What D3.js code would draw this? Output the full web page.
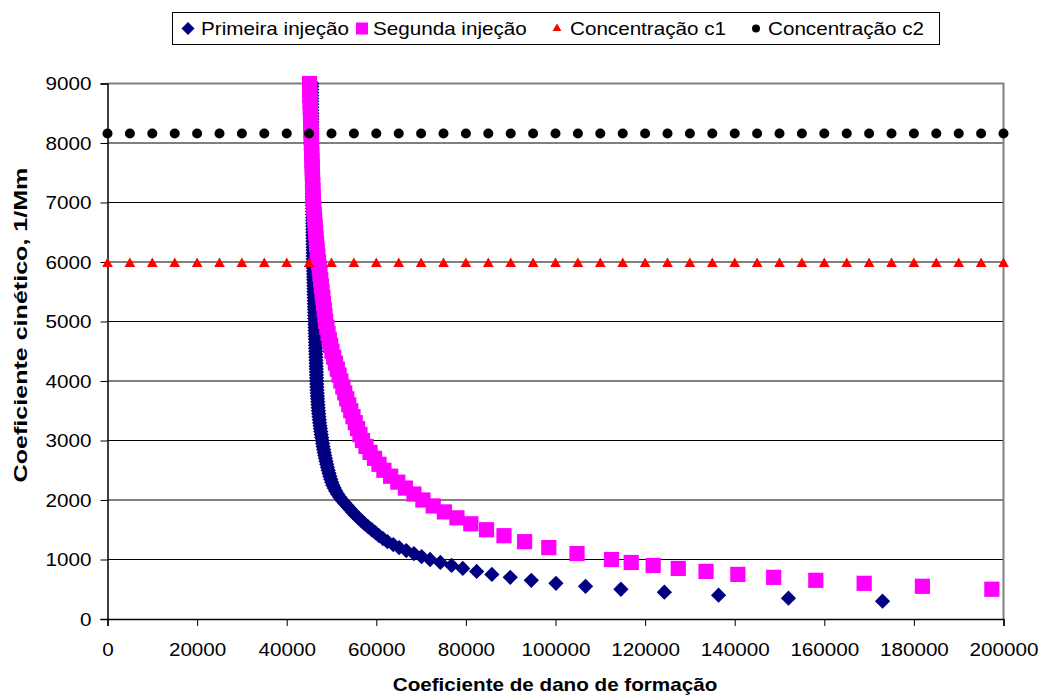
<!DOCTYPE html>
<html>
<head>
<meta charset="utf-8">
<script src="https://cdn.jsdelivr.net/npm/d3@7"></script>
<style>
  html, body { margin: 0; padding: 0; background: #fff; }
  svg { display: block; }
  text { font-family: "Liberation Sans", Arial, sans-serif; fill: #000; }
</style>
</head>
<body>
<svg id="chart" width="1041" height="697"></svg>
<script>
// Coeficiente cinético (1/Mm) for the first injection
const primeiraK = [300,350,400,450,500,550,600,650,700,750,800,850,900,950,1000,1050,1100,1150,1200,1250,1300,1350,1400,1450,1500,1550,1600,1650,1700,1750,1800,1850,1900,1950,2000,2050,2100,2150,2200,2250,2300,2350,2400,2450,2500,2550,2600,2650,2700,2750,2800,2850,2900,2950,3000,3050,3100,3150,3200,3250,3300,3350,3400,3450,3500,3550,3600,3650,3700,3750,3800,3850,3900,3950,4000,4050,4100,4150,4200,4250,4300,4350,4400,4450,4500,4550,4600,4650,4700,4750,4800,4850,4900,4950,5000,5050,5100,5150,5200,5250,5300,5350,5400,5450,5500,5550,5600,5650,5700,5750,5800,5850,5900,5950,6000,6050,6100,6150,6200,6250,6300,6350,6400,6450,6500,6550,6600,6650,6700,6750,6800,6850,6900,6950,7000,7050,7100,7150,7200,7250,7300,7350,7400,7450,7500,7550,7600,7650,7700,7750,7800,7850,7900,7950,8000,8050,8100,8150,8200,8250,8300,8350,8400,8450,8500,8550,8600,8650,8700,8750,8800,8850,8900,8950,9000];
// Coeficiente de dano de formação for the first injection
const primeiraD = [173000,152000,136400,124300,114600,106700,100100,94600,89900,85800,82400,79300,76800,74300,72000,70100,68400,66700,65100,63800,62500,61500,60600,59800,59000,58200,57400,56700,56000,55300,54700,54100,53500,52900,52300,51800,51350,50950,50600,50300,50050,49830,49630,49440,49260,49090,48930,48780,48640,48500,48370,48250,48130,48020,47910,47810,47710,47610,47520,47430,47350,47280,47210,47140,47080,47030,46980,46930,46890,46850,46810,46770,46740,46710,46680,46660,46640,46620,46600,46580,46560,46540,46520,46500,46480,46460,46440,46420,46400,46380,46360,46340,46320,46300,46280,46260,46240,46230,46210,46190,46170,46160,46140,46120,46100,46090,46070,46050,46030,46020,46000,45980,45960,45950,45930,45920,45910,45900,45890,45880,45870,45860,45850,45840,45830,45820,45810,45800,45800,45790,45780,45770,45760,45750,45750,45740,45730,45720,45720,45710,45700,45700,45690,45680,45680,45670,45670,45660,45660,45650,45650,45640,45640,45630,45630,45630,45620,45620,45620,45610,45610,45610,45610,45600,45600,45600,45600,45600,45590,45590,45590,45590,45590,45580,45580];

// Second injection
const segundaK = [500,550,600,650,700,750,800,850,900,950,1000,1100,1200,1300,1400,1500,1600,1700,1800,1900,2000,2100,2200,2300,2400,2500,2600,2700,2800,2900,3000,3100,3200,3300,3400,3500,3600,3700,3800,3900,4000,4100,4200,4300,4400,4500,4600,4700,4800,4900,5000,5100,5200,5300,5400,5500,5600,5700,5800,5900,6000,6100,6200,6300,6400,6500,6600,6700,6800,6900,7000,7100,7200,7300,7400,7500,7600,7700,7800,7900,8000,8100,8200,8300,8400,8500,8600,8700,8800,8900,9000];
const segundaD = [197400,181900,168900,158100,148700,140700,133600,127400,121800,116900,112500,104800,98500,93100,88500,84600,81100,78000,75200,72700,70400,68400,66500,64800,63200,61700,60600,59600,58600,57700,56900,56350,55820,55300,54800,54300,53850,53400,52960,52530,52100,51690,51290,50890,50490,50100,49800,49510,49230,48960,48700,48540,48380,48220,48060,47900,47740,47580,47420,47260,47100,46950,46810,46680,46560,46450,46350,46250,46150,46050,45950,45900,45860,45820,45770,45730,45680,45640,45590,45550,45500,45460,45420,45380,45340,45300,45260,45220,45180,45140,45100];

// Reference concentration levels, sampled along the x range
const concentracaoD = [0,5000,10000,15000,20000,25000,30000,35000,40000,45000,50000,55000,60000,65000,70000,75000,80000,85000,90000,95000,100000,105000,110000,115000,120000,125000,130000,135000,140000,145000,150000,155000,160000,165000,170000,175000,180000,185000,190000,195000,200000];
const concentracaoC1 = 5970;
const concentracaoC2 = 8160;

const xTicks = [0,20000,40000,60000,80000,100000,120000,140000,160000,180000,200000];
const yTicks = [0,1000,2000,3000,4000,5000,6000,7000,8000,9000];

const seriesNames = ["Primeira injeção", "Segunda injeção", "Concentração c1", "Concentração c2"];
const seriesColors = ["#000080", "#FF00FF", "#FF0000", "#000000"];

const plot = { left: 107.5, right: 1003.5, top: 83.5, bottom: 619 };
const FS = 17.5, SX = 1.18;

const svg = d3.select("#chart");
const x = d3.scaleLinear().domain([0, 200000]).range([plot.left, plot.right]);
const y = d3.scaleLinear().domain([0, 9000]).range([plot.bottom, plot.top]);

// horizontal gridlines
svg.append("g").selectAll("line").data(yTicks.filter(v => v > 0 && v < 9000)).join("line")
  .attr("x1", plot.left).attr("x2", plot.right)
  .attr("y1", d => y(d)).attr("y2", d => y(d))
  .attr("stroke", "#000").attr("stroke-width", 1);

// plot frame (top and right)
svg.append("path")
  .attr("d", `M${plot.left},${plot.top}H${plot.right}V${plot.bottom}`)
  .attr("fill", "none").attr("stroke", "#808080").attr("stroke-width", 2);

// axes
const xAxis = svg.append("g").attr("transform", `translate(0,${plot.bottom})`)
  .call(d3.axisBottom(x).tickValues(xTicks).tickSize(7).tickFormat(d3.format("d")));
const yAxis = svg.append("g").attr("transform", `translate(${plot.left},0)`)
  .call(d3.axisLeft(y).tickValues(yTicks).tickSize(7).tickFormat(d3.format("d")));

[xAxis, yAxis].forEach(g => {
  g.select(".domain").attr("stroke", "#000").attr("stroke-width", 1.5);
  g.selectAll(".tick line").attr("stroke", "#000").attr("stroke-width", 1);
  g.selectAll(".tick text").attr("font-size", FS).attr("font-family", "Liberation Sans, Arial, sans-serif").attr("fill", "#000");
});
xAxis.selectAll(".tick text").attr("dy", null).attr("y", 0)
  .attr("transform", `translate(0,37) scale(${SX},1)`);
yAxis.selectAll(".tick text").attr("x", 0).attr("dy", "0.35em")
  .attr("transform", `translate(-16,0) scale(${SX},1)`);

// markers
const group = svg.append("g");

group.append("g").selectAll("rect").data(d3.zip(primeiraD, primeiraK)).join("rect")
  .attr("width", 10.8).attr("height", 10.8).attr("x", -5.4).attr("y", -5.4)
  .attr("transform", d => `translate(${x(d[0])},${y(d[1])}) rotate(45)`)
  .attr("fill", seriesColors[0]);

group.append("g").selectAll("rect").data(d3.zip(segundaD, segundaK)).join("rect")
  .attr("x", d => x(d[0]) - 7.6).attr("y", d => y(d[1]) - 7.6)
  .attr("width", 15.2).attr("height", 15.2)
  .attr("fill", seriesColors[1]);

const tri = d3.symbol().type(d3.symbolTriangle).size(50)();
group.append("g").selectAll("path").data(concentracaoD).join("path")
  .attr("d", tri)
  .attr("transform", d => `translate(${x(d)},${y(concentracaoC1)})`)
  .attr("fill", seriesColors[2]);

group.append("g").selectAll("circle").data(concentracaoD).join("circle")
  .attr("cx", d => x(d)).attr("cy", y(concentracaoC2)).attr("r", 5)
  .attr("fill", seriesColors[3]);

// axis titles
svg.append("text").attr("text-anchor", "middle").attr("font-weight", "bold").attr("font-size", FS)
  .attr("transform", `translate(555,691) scale(${SX},1)`).text("Coeficiente de dano de formação");
svg.append("text").attr("text-anchor", "middle").attr("font-weight", "bold").attr("font-size", 19)
  .attr("transform", `translate(27,325) rotate(-90) scale(1.32,1)`).text("Coeficiente cinético, 1/Mm");

// legend
const legend = svg.append("g");
legend.append("rect").attr("x", 172.5).attr("y", 12.5).attr("width", 767).attr("height", 32)
  .attr("fill", "#fff").attr("stroke", "#000").attr("stroke-width", 1);
const legendX = [188, 362, 557, 756];
const textX = [201, 373, 570, 768];
seriesNames.forEach((name, i) => {
  const cx = legendX[i], cy = 28.5;
  if (i === 0) legend.append("rect").attr("x", -4.6).attr("y", -4.6).attr("width", 9.2).attr("height", 9.2)
      .attr("transform", `translate(${cx},${cy}) rotate(45)`).attr("fill", seriesColors[0]);
  if (i === 1) legend.append("rect").attr("x", cx - 6).attr("y", cy - 6).attr("width", 12).attr("height", 12).attr("fill", seriesColors[1]);
  if (i === 2) legend.append("path").attr("d", d3.symbol().type(d3.symbolTriangle).size(34)()).attr("transform", `translate(${cx},${cy})`).attr("fill", seriesColors[2]);
  if (i === 3) legend.append("circle").attr("cx", cx).attr("cy", cy).attr("r", 4).attr("fill", seriesColors[3]);
  legend.append("text").attr("font-size", FS).attr("dy", "0.35em")
    .attr("transform", `translate(${textX[i]},${cy}) scale(${SX},1)`).text(name);
});
</script>
</body>
</html>
